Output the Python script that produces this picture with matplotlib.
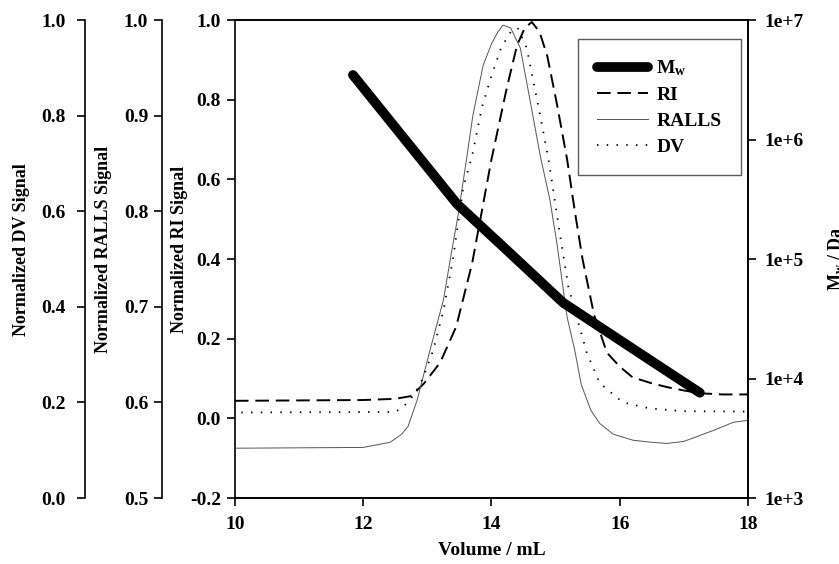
import matplotlib
matplotlib.use("Agg")
import matplotlib.pyplot as plt
from matplotlib.ticker import FixedLocator, NullLocator

plt.rcParams['font.family'] = ['Liberation Serif', 'DejaVu Serif']
plt.rcParams['font.weight'] = 'bold'
plt.rcParams['axes.unicode_minus'] = False
plt.rcParams['mathtext.fontset'] = 'custom'
plt.rcParams['mathtext.bf'] = 'Liberation Serif:bold'
plt.rcParams['mathtext.rm'] = 'Liberation Serif:bold'
plt.rcParams['mathtext.default'] = 'bf'

# ---- data ----
vol_ri = [10.0, 11.0, 12.0, 12.5, 12.75, 12.95, 13.2, 13.45, 13.7, 14.0, 14.24, 14.4,
          14.52, 14.63, 14.75, 14.87, 15.02, 15.18, 15.3, 15.42, 15.6, 15.8, 16.0, 16.2,
          16.5, 16.75, 17.0, 17.25, 17.6, 18.0]
ri = [0.044, 0.045, 0.046, 0.049, 0.056, 0.088, 0.14, 0.23, 0.39, 0.65, 0.83, 0.937,
      0.98, 0.995, 0.97, 0.91, 0.79, 0.65, 0.52, 0.40, 0.26, 0.165, 0.13, 0.103,
      0.088, 0.078, 0.07, 0.063, 0.06, 0.06]

vol_ralls = [10.0, 12.0, 12.42, 12.6, 12.7, 12.84, 13.04, 13.25, 13.38, 13.48, 13.62, 13.71,
             13.87, 14.0, 14.1, 14.18, 14.3, 14.45, 14.6, 14.76, 14.91, 15.02, 15.18, 15.3,
             15.4, 15.55, 15.69, 15.9, 16.21, 16.5, 16.74, 17.0, 17.25, 17.5, 17.77, 18.0]
ralls = [0.5521, 0.5529, 0.5583, 0.5667, 0.575, 0.6021, 0.6542, 0.7067, 0.7583, 0.7958, 0.8583, 0.9,
         0.9525, 0.975, 0.9875, 0.9946, 0.9917, 0.9708, 0.9167, 0.8583, 0.8125, 0.7667, 0.6892, 0.6542,
         0.6188, 0.5917, 0.5779, 0.5667, 0.5604, 0.5583, 0.5571, 0.5592, 0.5654, 0.5717, 0.5792, 0.5813]

vol_dv = [10.1, 12.5, 12.62, 12.8, 12.93, 13.09, 13.25, 13.4, 13.56, 13.7, 13.85, 14.0,
          14.15, 14.3, 14.41, 14.55, 14.76, 14.89, 15.07, 15.2, 15.33, 15.49, 15.69, 16.05,
          16.47, 16.99, 18.0]
dv = [0.179, 0.18, 0.19, 0.2167, 0.25, 0.3083, 0.3917, 0.5, 0.65, 0.7167, 0.8167, 0.8833,
      0.9417, 0.975, 0.9833, 0.9417, 0.8, 0.7083, 0.55, 0.4417, 0.3783, 0.3025, 0.24, 0.2,
      0.1875, 0.1817, 0.1808]

vol_mw = [11.84, 13.46, 14.29, 15.12, 15.69, 16.47, 17.25]
mw = [3.47e6, 2.9e5, 1.12e5, 4.3e4, 2.7e4, 1.43e4, 7.6e3]

x_ticks = [10, 12, 14, 16, 18]
ri_ticks = [-0.2, 0.0, 0.2, 0.4, 0.6, 0.8, 1.0]
ralls_ticks = [0.5, 0.6, 0.7, 0.8, 0.9, 1.0]
dv_ticks = [0.0, 0.2, 0.4, 0.6, 0.8, 1.0]
mw_ticks = [1e3, 1e4, 1e5, 1e6, 1e7]
mw_ticklabels = ['1e+3', '1e+4', '1e+5', '1e+6', '1e+7']

FS = 14
FSL = 13
fig = plt.figure(figsize=(8.39, 5.64), dpi=100)
ax = fig.add_axes([0.280, 0.117, 0.6115, 0.8475])
ax.set_xlim(10, 18)
ax.set_ylim(-0.2, 1.0)

ax_r = ax.twinx()
ax_r.set_ylim(0.5, 1.0)
ax_d = ax.twinx()
ax_d.set_ylim(0.0, 1.0)
ax_m = ax.twinx()
ax_m.set_yscale('log')
ax_m.set_ylim(1e3, 1e7)

for a, pos in ((ax_r, -0.142), (ax_d, -0.292)):
    a.spines['left'].set_position(('axes', pos))
    a.spines['left'].set_visible(True)
    for s in ('right', 'top', 'bottom'):
        a.spines[s].set_visible(False)
    a.yaxis.set_ticks_position('left')
    a.yaxis.set_label_position('left')

for a in (ax, ax_r, ax_d, ax_m):
    for s in a.spines.values():
        s.set_linewidth(1.2)
    a.tick_params(direction='out', length=6, width=1.2, labelsize=FS, pad=4)

ax_m.spines['left'].set_visible(False)

ax.set_xticks(x_ticks)
ax.set_xticklabels([str(t) for t in x_ticks])
ax.set_yticks(ri_ticks)
ax.set_yticklabels(['%.1f' % t for t in ri_ticks])
ax_r.set_yticks(ralls_ticks)
ax_r.set_yticklabels(['%.1f' % t for t in ralls_ticks])
ax_d.set_yticks(dv_ticks)
ax_d.set_yticklabels(['%.1f' % t for t in dv_ticks])
ax_d.tick_params(axis='y', pad=8)
ax_m.yaxis.set_major_locator(FixedLocator(mw_ticks))
ax_m.yaxis.set_minor_locator(NullLocator())
ax_m.set_yticklabels(mw_ticklabels)
ax.tick_params(axis='y', right=False)
ax.tick_params(axis='x', top=False, pad=7)
ax_m.tick_params(axis='y', pad=6)

# curves
l_ralls, = ax_r.plot(vol_ralls, ralls, color='#555555', lw=0.7, label='RALLS')
l_dv, = ax_d.plot(vol_dv, dv, color='black', lw=1.3, linestyle=(0, (0.8, 4.6)), label='DV')
l_ri, = ax.plot(vol_ri, ri, color='black', lw=1.4, linestyle=(0, (7, 3.5)), label='RI')
l_mw, = ax_m.plot(vol_mw, mw, color='black', lw=7.0, solid_capstyle='round', label=r'M$_{w}$')

leg = ax_m.legend(handles=[l_mw, l_ri, l_ralls, l_dv], loc='upper left',
                  bbox_to_anchor=(0.668, 0.96), frameon=True, fancybox=False,
                  fontsize=FS, handlelength=2.6, borderpad=1.0, labelspacing=0.42,
                  handletextpad=0.45, borderaxespad=0)
leg.get_frame().set_edgecolor('#333333')
leg.get_frame().set_linewidth(1.0)
for t in leg.get_texts():
    t.set_fontweight('bold')

# axis labels
fig.text(0.5857, 0.024, 'Volume / mL', ha='center', va='center', fontsize=FS, fontweight='bold')
fig.text(179 / 839, 0.557, 'Normalized RI Signal', rotation=90, ha='center', va='center',
         fontsize=FSL, fontweight='bold')
fig.text(104 / 839, 0.557, 'Normalized RALLS Signal', rotation=90, ha='center', va='center',
         fontsize=FSL, fontweight='bold')
fig.text(22 / 839, 0.557, 'Normalized DV Signal', rotation=90, ha='center', va='center',
         fontsize=FSL, fontweight='bold')
fig.text(836 / 839, 0.541, r'M$_{w}$ / Da', rotation=90, ha='center', va='center',
         fontsize=FSL, fontweight='bold')

fig.savefig('out.png', dpi=100)
